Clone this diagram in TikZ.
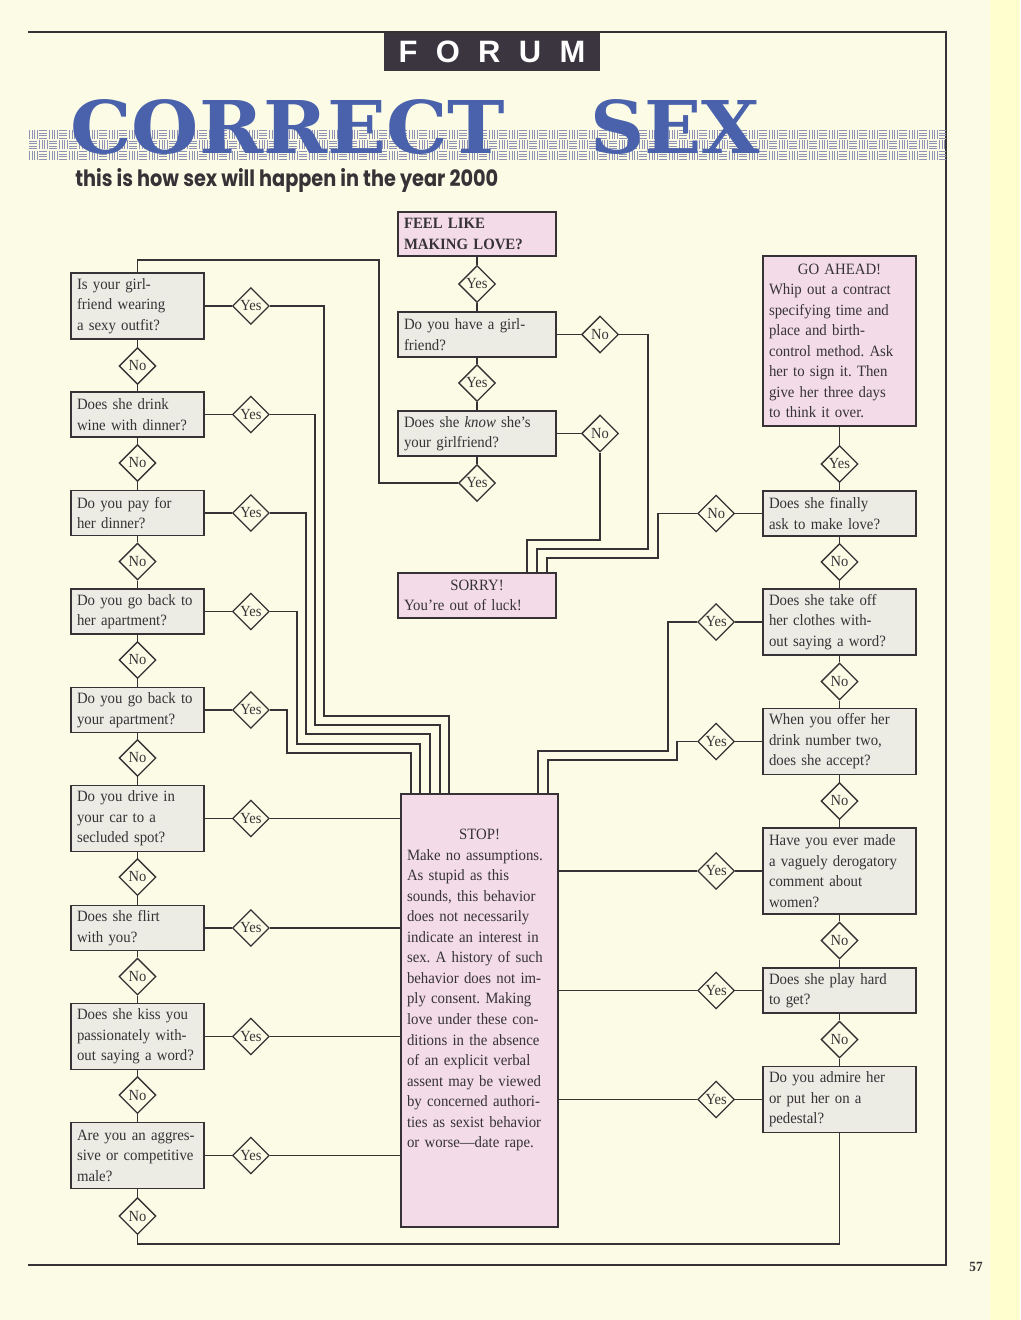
\documentclass[tikz,border=0pt]{standalone}
\usepackage{graphicx}
\usepackage{fontspec}
\setmainfont{Liberation Serif}[FakeStretch=0.94]
\newfontfamily\titlefont{DejaVu Serif}
\newfontfamily\headfont{Liberation Sans}
\newfontfamily\subfont{Poppins}
\usepackage{xcolor}
\usepackage{tikz}
\usetikzlibrary{positioning,shapes.geometric}
\frenchspacing

\definecolor{paper}{HTML}{FCFCE6}
\definecolor{paperedge}{HTML}{FEFECF}
\definecolor{boxgray}{HTML}{ECECE4}
\definecolor{boxpink}{HTML}{F3DCE8}
\definecolor{ink}{HTML}{363236}
\definecolor{titleblue}{HTML}{4A61AC}
\definecolor{forumbg}{HTML}{3B3540}
\definecolor{weave}{HTML}{8E92B4}

\newcommand{\qfont}{\fontsize{11.2}{14.6}\selectfont}

\tikzset{
  question/.style={draw=ink, fill=boxgray, text=ink, line width=0.9pt, align=left, inner xsep=1.5mm, inner ysep=0pt, font=\qfont},
  leftq/.style={question, text width=30.25mm},
  midq/.style={question, text width=36.5mm},
  rightq/.style={question, text width=35.25mm},
  verdict/.style={fill=boxpink},
  answer/.style={draw=ink, fill=paper, text=ink, diamond, aspect=1, inner sep=0pt, minimum size=9.2mm, line width=0.9pt, font=\fontsize{11}{12}\selectfont},
  wire/.style={draw=ink, line width=0.9pt},
  weave line/.style={draw=weave, line width=0.45pt},
}

\begin{document}
\begin{tikzpicture}[x=0.25mm, y=-0.25mm]
% page and frame
\fill[paper] (0,0) rectangle (1020,1320);
\fill[paperedge] (990,0) rectangle (1020,1320);
\useasboundingbox (0,0) rectangle (1020,1320);
\draw[ink, line width=1pt] (28,32) -- (946,32) -- (946,1265) -- (28,1265);

% heading
\node[fill=forumbg, text=white, minimum width=54mm, minimum height=9.5mm, inner sep=0pt, font=\headfont\bfseries\fontsize{22}{22}\selectfont] (forum) at (492,52) {F\hspace{4.6mm}O\hspace{4.6mm}R\hspace{4.6mm}U\hspace{4.6mm}M};
\begin{scope}
  \clip (28,129) rectangle (946,160);
  \foreach \i in {0,...,91} \foreach \r in {0,1,2} {
    \pgfmathsetmacro\bx{28+10*\i}
    \pgfmathsetmacro\by{129+10.5*\r}
    \pgfmathtruncatemacro\kind{mod(\i+\r,2)}
    \ifnum\kind=0
      \foreach \k in {1.5,4,6.5,9} \draw[weave line] (\bx+\k,\by+0.8) -- (\bx+\k,\by+9.7);
    \else
      \foreach \k in {1.5,4,6.5,9} \draw[weave line] (\bx+0.8,\by+\k) -- (\bx+9.2,\by+\k);
    \fi
  }
\end{scope}
\node[anchor=west, inner sep=0pt, text=titleblue] (title) at (70,127.5) {\resizebox*{108.75mm}{13.75mm}{\titlefont\bfseries CORRECT}};
\node[anchor=west, inner sep=0pt, text=titleblue] (titlesex) at (590,127.5) {\resizebox*{42.5mm}{13.75mm}{\titlefont\bfseries SEX}};
\node[anchor=west, inner sep=0pt, text=ink] (subtitle) at (75,180) {\resizebox*{105.75mm}{6mm}{\subfont\bfseries this is how sex will happen in the year 2000}};
\node[text=ink, font=\bfseries\fontsize{10}{12}\selectfont] (pagenum) at (976,1267) {57};

% left column
\node[leftq, minimum height=16.5mm] (q1) at (137.5,306) {Is your girl-\\friend wearing\\a sexy outfit?};
\node[answer] (n1) at (137.5,366) {No};
\node[leftq, minimum height=11.25mm] (q2) at (137.5,414.5) {Does she drink\\wine with dinner?};
\node[answer] (n2) at (137.5,463) {No};
\node[leftq, minimum height=11.25mm] (q3) at (137.5,513) {Do you pay for\\her dinner?};
\node[answer] (n3) at (137.5,561.5) {No};
\node[leftq, minimum height=11.25mm] (q4) at (137.5,611.5) {Do you go back to\\her apartment?};
\node[answer] (n4) at (137.5,660) {No};
\node[leftq, minimum height=11.25mm] (q5) at (137.5,710) {Do you go back to\\your apartment?};
\node[answer] (n5) at (137.5,758) {No};
\node[leftq, minimum height=16.5mm] (q6) at (137.5,818.5) {Do you drive in\\your car to a\\secluded spot?};
\node[answer] (n6) at (137.5,877) {No};
\node[leftq, minimum height=11.25mm] (q7) at (137.5,928) {Does she flirt\\with you?};
\node[answer] (n7) at (137.5,976.5) {No};
\node[leftq, minimum height=16.5mm] (q8) at (137.5,1036.5) {Does she kiss you\\passionately with-\\out saying a word?};
\node[answer] (n8) at (137.5,1095) {No};
\node[leftq, minimum height=16.5mm] (q9) at (137.5,1155.5) {Are you an aggres-\\sive or competitive\\male?};
\node[answer] (n9) at (137.5,1216) {No};
\foreach \k in {1,...,9} \node[answer, right=6.8mm of q\k] (y\k) {Yes};

% centre column
\node[midq, verdict, minimum height=11mm, font=\qfont\bfseries] (feel) at (477,234) {FEEL LIKE\\MAKING LOVE?};
\node[answer] (my1) at (477,284) {Yes};
\node[midq, minimum height=11.25mm] (mq2) at (477,334.5) {Do you have a girl-\\friend?};
\node[answer] (my2) at (477,383) {Yes};
\node[midq, minimum height=11.25mm] (mq3) at (477,433.5) {Does she \textit{know} she's\\your girlfriend?};
\node[answer] (my3) at (477,483) {Yes};
\node[answer] (mn2) at (600,334.5) {No};
\node[answer] (mn3) at (600,433.5) {No};
\node[midq, verdict, minimum height=11.25mm] (sorry) at (477,595.5) {\hfill SORRY!\hfill\null\\You're out of luck!};
\node[question, verdict, text width=36.25mm, minimum height=108.25mm] (stop) at (479.5,1010.5) {\hfill STOP!\hfill\null\\Make no assumptions.\\As stupid as this\\sounds, this behavior\\does not necessarily\\indicate an interest in\\sex. A history of such\\behavior does not im-\\ply consent. Making\\love under these con-\\ditions in the absence\\of an explicit verbal\\assent may be viewed\\by concerned authori-\\ties as sexist behavior\\or worse---date rape.\rule[-11mm]{0pt}{12mm}};

% right column
\node[rightq, verdict, minimum height=42.5mm] (go) at (839.5,341) {\hfill GO AHEAD!\hfill\null\\Whip out a contract\\specifying time and\\place and birth-\\control method. Ask\\her to sign it. Then\\give her three days\\to think it over.};
\node[answer] (ry0) at (839.5,464) {Yes};
\node[rightq, minimum height=11.25mm] (rq1) at (839.5,513.5) {Does she finally\\ask to make love?};
\node[answer, left=6.8mm of rq1] (rn1) {No};
\node[answer] (rn2) at (839.5,562) {No};
\node[rightq, minimum height=16.5mm] (rq2) at (839.5,622) {Does she take off\\her clothes with-\\out saying a word?};
\node[answer] (rn3) at (839.5,681.5) {No};
\node[rightq, minimum height=16.5mm] (rq3) at (839.5,741.5) {When you offer her\\drink number two,\\does she accept?};
\node[answer] (rn4) at (839.5,801) {No};
\node[rightq, minimum height=21.5mm] (rq4) at (839.5,871) {Have you ever made\\a vaguely derogatory\\comment about\\women?};
\node[answer] (rn5) at (839.5,940.5) {No};
\node[rightq, minimum height=11.25mm] (rq5) at (839.5,990.5) {Does she play hard\\to get?};
\node[answer] (rn6) at (839.5,1039.5) {No};
\node[rightq, minimum height=16.5mm] (rq6) at (839.5,1099.5) {Do you admire her\\or put her on a\\pedestal?};
\foreach \k in {2,...,6} \node[answer, left=6.8mm of rq\k] (ry\k) {Yes};

% chains
\draw[wire] (q1) -- (n1) -- (q2) -- (n2) -- (q3) -- (n3) -- (q4) -- (n4) -- (q5) -- (n5) -- (q6) -- (n6) -- (q7) -- (n7) -- (q8) -- (n8) -- (q9) -- (n9);
\foreach \k in {1,...,9} \draw[wire] (q\k) -- (y\k);
\draw[wire] (feel) -- (my1) -- (mq2) -- (my2) -- (mq3) -- (my3);
\draw[wire] (mq2) -- (mn2);
\draw[wire] (mq3) -- (mn3);
\draw[wire] (go) -- (ry0) -- (rq1) -- (rn2) -- (rq2) -- (rn3) -- (rq3) -- (rn4) -- (rq4) -- (rn5) -- (rq5) -- (rn6) -- (rq6);
\draw[wire] (rq1) -- (rn1);
\foreach \k in {2,...,6} \draw[wire] (rq\k) -- (ry\k);

% back to the start
\draw[wire] (my3) -| (379,260) -| (q1);
\draw[wire] (n9) -- (n9 |- 0,1244) -| (rq6);

% out of luck
\draw[wire] (mn2) -| (648,549) -| (sorry.north -| 537,0);
\draw[wire] (mn3) |- (527,540) -- (sorry.north -| 527,0);
\draw[wire] (rn1) -| (658,558) -| (sorry.north -| 547,0);

% into STOP
\draw[wire] (y1) -| (324,716) -| (stop.north -| 449,0);
\draw[wire] (y2) -| (315,725) -| (stop.north -| 440,0);
\draw[wire] (y3) -| (306,734) -| (stop.north -| 430,0);
\draw[wire] (y4) -| (297,744) -| (stop.north -| 420,0);
\draw[wire] (y5) -| (287,753) -| (stop.north -| 411,0);
\foreach \k in {6,...,9} \draw[wire] (y\k) -- (y\k -| stop.west);
\draw[wire] (ry2) -| (668,751) -| (stop.north -| 538,0);
\draw[wire] (ry3) -| (677,760) -| (stop.north -| 548,0);
\foreach \k in {4,5,6} \draw[wire] (ry\k) -- (ry\k -| stop.east);
\end{tikzpicture}
\end{document}
